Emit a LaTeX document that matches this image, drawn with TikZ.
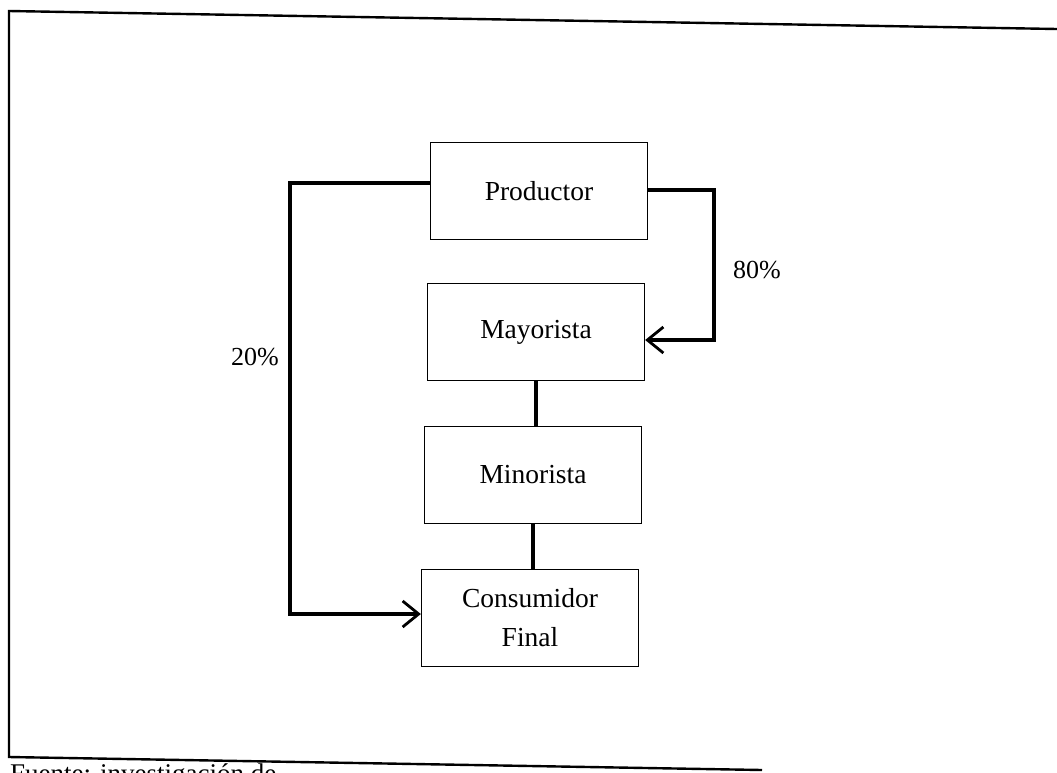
\documentclass[tikz,border=0pt]{standalone}
\usepackage{fontspec}
\setmainfont{Liberation Serif}
\usetikzlibrary{arrows.meta}
\begin{document}
\begin{tikzpicture}[x=1pt,y=-1pt,
  box/.style={draw, line width=1.3pt, minimum width=217pt, minimum height=97pt, align=center, font=\fontsize{27.5}{39}\selectfont, inner sep=0pt},
  conn/.style={line width=3.2pt},
  arr/.style={conn, -{Straight Barb[length=16pt, width=26pt, line width=2.8pt]}},
  lbl/.style={font=\fontsize{26}{30}\selectfont}]
\useasboundingbox (0,0) rectangle (1057,772);
\fill[white] (0,0) rectangle (1057,772);
% frame
\draw[line width=2.4pt] (1057,29) -- (9,11) -- (9,757) -- (762,770);
\node[anchor=north west, inner sep=0pt, font=\fontsize{27}{30}\selectfont] (src) at (10,764) {Fuente: investigación de};
% boxes
\node[box] (prod) at (539,191) {Productor};
\node[box] (mayo) at (536,332) {Mayorista};
\node[box] (mino) at (533,475) {Minorista};
\node[box] (cons) at (530,618) {Consumidor\\Final};
% coordinates
\coordinate (l1) at (290,183);
\coordinate (l2) at (290,614);
\coordinate (r1) at (714,190);
\coordinate (r2) at (714,340);
% connectors
\draw[conn] (mayo.south) -- (mayo.south |- mino.north);
\draw[conn] (mino.south) -- (mino.south |- cons.north);
\draw[arr] (prod.west |- l1) -- (l1) -- (l2) -- (cons.west |- l2);
\draw[arr] (prod.east |- r1) -- (r1) -- (r2) -- (mayo.east |- r2);
% labels
\node[lbl] (p80) at (757,270) {80\%};
\node[lbl] (p20) at (255,357) {20\%};
\end{tikzpicture}
\end{document}
